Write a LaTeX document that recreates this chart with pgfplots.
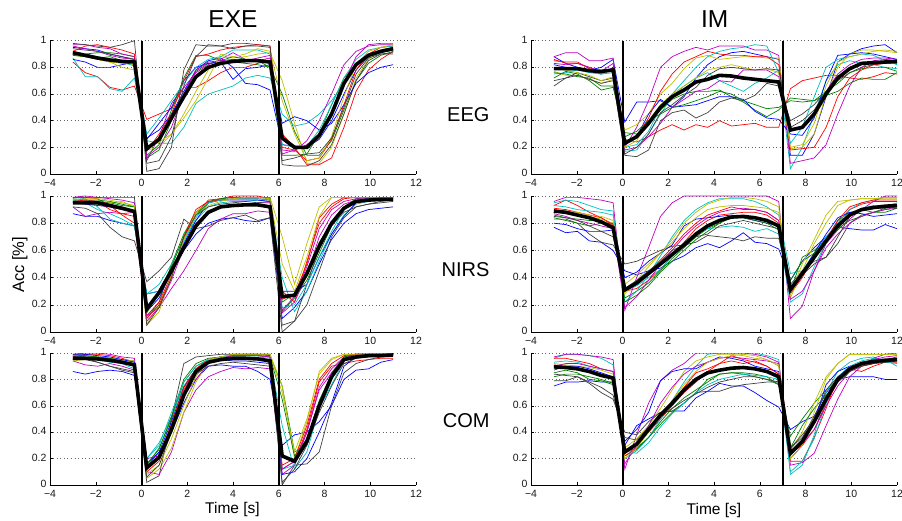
\documentclass[border=0pt]{standalone}
\usepackage{fontspec}
\setmainfont{Liberation Sans}
\usepackage{pgfplots}
\usepackage{pgfplotstable}
\pgfplotsset{compat=1.18}

\definecolor{mb}{rgb}{0,0,1}
\definecolor{mg}{rgb}{0,0.5,0}
\definecolor{mr}{rgb}{1,0,0}
\definecolor{mc}{rgb}{0,0.75,0.75}
\definecolor{mm}{rgb}{0.75,0,0.75}
\definecolor{my}{rgb}{0.75,0.75,0}
\definecolor{mk}{rgb}{0.25,0.25,0.25}

% ---------- EXE / EEG ----------
\pgfplotstableread[header=false]{
t   -3 -2.46 -1.92 -1.38 -0.85 -0.31 0.23 0.77 1.31 1.85 2.38 2.92 3.46 4.00 4.54 5.08 5.62 6.15 6.69 7.23 7.77 8.31 8.85 9.38 9.92 10.46 11.00
a1  0.95 0.94 0.93 0.90 0.88 0.86 0.27 0.33 0.45 0.62 0.78 0.85 0.87 0.80 0.68 0.67 0.63 0.22 0.21 0.20 0.26 0.40 0.60 0.78 0.88 0.92 0.94
a2  0.91 0.90 0.91 0.91 0.90 0.88 0.12 0.18 0.40 0.60 0.77 0.83 0.84 0.84 0.83 0.82 0.80 0.60 0.32 0.14 0.14 0.25 0.48 0.70 0.83 0.89 0.92
a3  0.84 0.76 0.73 0.65 0.63 0.66 0.41 0.45 0.49 0.65 0.65 0.70 0.76 0.80 0.80 0.83 0.85 0.30 0.20 0.07 0.07 0.12 0.35 0.62 0.78 0.86 0.92
a4  0.87 0.73 0.73 0.64 0.62 0.72 0.25 0.23 0.23 0.35 0.53 0.60 0.63 0.66 0.72 0.74 0.72 0.45 0.36 0.38 0.45 0.55 0.68 0.82 0.90 0.93 0.95
a5  0.97 0.97 0.95 0.94 0.90 0.88 0.10 0.28 0.53 0.65 0.76 0.82 0.86 0.91 0.86 0.85 0.87 0.18 0.17 0.25 0.40 0.60 0.82 0.92 0.96 0.97 0.97
a6  0.89 0.88 0.86 0.84 0.83 0.82 0.18 0.20 0.30 0.45 0.62 0.78 0.88 0.87 0.88 0.90 0.91 0.70 0.38 0.08 0.08 0.20 0.45 0.72 0.86 0.92 0.95
a7  0.98 0.97 0.96 0.95 0.97 1.00 0.02 0.04 0.20 0.78 0.97 0.96 0.96 0.98 0.98 0.97 0.96 0.07 0.06 0.06 0.10 0.22 0.45 0.70 0.85 0.90 0.91
a8  0.86 0.84 0.80 0.80 0.82 0.84 0.26 0.38 0.50 0.70 0.80 0.83 0.84 0.71 0.79 0.80 0.82 0.38 0.43 0.40 0.33 0.38 0.52 0.68 0.76 0.80 0.82
a9  0.89 0.88 0.87 0.88 0.85 0.84 0.14 0.22 0.48 0.72 0.89 0.89 0.85 0.88 0.86 0.85 0.80 0.14 0.14 0.15 0.30 0.52 0.72 0.82 0.88 0.91 0.93
a10 0.92 0.96 0.97 0.95 0.93 0.90 0.17 0.30 0.45 0.70 0.88 0.90 0.93 0.95 0.96 0.97 0.96 0.20 0.18 0.10 0.12 0.26 0.52 0.78 0.90 0.95 0.96
a11 0.92 0.90 0.88 0.86 0.84 0.81 0.30 0.42 0.55 0.68 0.80 0.86 0.88 0.93 0.93 0.93 0.90 0.22 0.20 0.21 0.33 0.52 0.72 0.86 0.93 0.95 0.96
a12 0.96 0.94 0.92 0.89 0.87 0.86 0.13 0.20 0.35 0.60 0.78 0.84 0.85 0.86 0.85 0.87 0.89 0.15 0.18 0.22 0.30 0.44 0.68 0.88 0.97 0.98 0.98
a13 0.90 0.88 0.86 0.84 0.80 0.78 0.20 0.24 0.30 0.42 0.55 0.72 0.90 0.88 0.90 0.94 0.92 0.55 0.30 0.10 0.12 0.28 0.58 0.82 0.92 0.95 0.97
a14 0.94 0.93 0.92 0.90 0.88 0.86 0.08 0.10 0.28 0.66 0.88 0.97 0.96 0.94 0.96 0.96 0.95 0.10 0.12 0.15 0.16 0.27 0.50 0.75 0.87 0.90 0.90
m   0.91 0.89 0.87 0.855 0.845 0.84 0.19 0.26 0.42 0.58 0.73 0.80 0.83 0.845 0.85 0.85 0.84 0.27 0.20 0.20 0.29 0.45 0.68 0.82 0.89 0.92 0.94
}\rEXEa
\pgfplotstabletranspose[colnames from=0]{\EXEa}{\rEXEa}

% ---------- EXE / NIRS ----------
\pgfplotstableread[header=false]{
t   -3 -2.46 -1.92 -1.38 -0.85 -0.31 0.23 0.77 1.31 1.85 2.38 2.92 3.46 4.00 4.54 5.08 5.62 6.15 6.69 7.23 7.77 8.31 8.85 9.38 9.92 10.46 11.00
a1  0.87 0.85 0.85 0.82 0.80 0.78 0.28 0.30 0.45 0.60 0.72 0.80 0.83 0.84 0.82 0.81 0.84 0.10 0.18 0.30 0.50 0.68 0.80 0.87 0.90 0.91 0.92
a2  0.97 0.97 0.96 0.95 0.93 0.92 0.10 0.22 0.50 0.72 0.88 0.96 0.98 0.99 0.99 0.99 0.98 0.15 0.25 0.38 0.58 0.78 0.90 0.96 0.97 0.98 0.98
a3  0.99 0.99 0.98 0.93 0.86 0.80 0.12 0.22 0.42 0.68 0.86 0.97 0.98 1.00 1.00 1.00 0.98 0.30 0.22 0.52 0.80 0.92 0.98 0.99 0.99 0.99 0.99
a4  0.97 0.95 0.90 0.87 0.83 0.78 0.28 0.35 0.50 0.68 0.82 0.92 0.95 0.96 0.96 0.97 0.96 0.40 0.15 0.30 0.52 0.72 0.86 0.94 0.96 0.97 0.97
a5  0.92 0.85 0.87 0.88 0.87 0.88 0.12 0.18 0.32 0.45 0.60 0.76 0.83 0.87 0.87 0.89 0.88 0.14 0.22 0.42 0.70 0.86 0.94 0.97 0.97 0.97 0.97
a6  0.95 0.95 0.94 0.95 0.96 0.92 0.06 0.20 0.40 0.70 0.88 0.95 0.97 0.98 0.99 0.99 0.99 0.70 0.35 0.65 0.92 0.99 0.99 0.99 0.99 0.99 0.99
a7  0.92 0.91 0.87 0.77 0.70 0.67 0.37 0.45 0.55 0.83 0.76 0.78 0.82 0.84 0.86 0.82 0.84 0.00 0.08 0.35 0.62 0.78 0.88 0.92 0.94 0.95 0.96
a8  0.95 0.94 0.93 0.92 0.90 0.88 0.15 0.25 0.44 0.65 0.82 0.95 0.97 0.97 0.97 0.97 0.96 0.30 0.30 0.35 0.55 0.72 0.85 0.95 0.99 0.99 0.99
a9  0.98 0.97 0.97 0.96 0.94 0.92 0.14 0.30 0.48 0.70 0.86 0.95 0.98 0.99 0.99 0.99 0.99 0.22 0.28 0.45 0.66 0.80 0.92 0.98 0.99 0.99 0.99
a10 0.96 0.97 0.96 0.90 0.87 0.85 0.10 0.20 0.40 0.70 0.90 0.96 0.97 0.98 0.98 0.98 0.97 0.24 0.28 0.50 0.84 0.94 0.99 0.99 0.99 0.99 0.99
a11 0.99 0.98 0.92 0.83 0.80 0.78 0.28 0.30 0.45 0.66 0.84 0.95 0.97 0.98 0.98 0.98 0.97 0.18 0.20 0.35 0.55 0.74 0.90 0.96 0.97 0.97 0.97
a12 0.99 1.00 0.99 0.98 0.97 0.95 0.08 0.18 0.38 0.62 0.80 0.88 0.92 0.93 0.94 0.95 0.95 0.16 0.26 0.48 0.76 0.90 0.96 0.98 0.98 0.98 0.98
a13 0.97 0.98 0.98 0.97 0.95 0.93 0.05 0.15 0.42 0.68 0.86 0.93 0.96 0.98 0.99 0.99 0.98 0.50 0.30 0.55 0.85 0.99 0.99 0.99 0.99 0.99 0.99
a14 0.99 0.99 0.99 0.99 0.99 0.99 0.05 0.18 0.40 0.70 0.86 0.92 0.94 0.95 0.96 0.95 0.96 0.05 0.08 0.20 0.45 0.70 0.84 0.92 0.94 0.96 0.97
m   0.95 0.95 0.95 0.93 0.91 0.886 0.17 0.29 0.45 0.62 0.78 0.88 0.92 0.93 0.935 0.935 0.92 0.26 0.27 0.43 0.63 0.80 0.91 0.96 0.97 0.975 0.975
}\rEXEb
\pgfplotstabletranspose[colnames from=0]{\EXEb}{\rEXEb}

% ---------- EXE / COM ----------
\pgfplotstableread[header=false]{
t   -3 -2.46 -1.92 -1.38 -0.85 -0.31 0.23 0.77 1.31 1.85 2.38 2.92 3.46 4.00 4.54 5.08 5.62 6.15 6.69 7.23 7.77 8.31 8.85 9.38 9.92 10.46 11.00
a1  0.86 0.84 0.86 0.87 0.86 0.83 0.16 0.25 0.40 0.62 0.80 0.90 0.91 0.90 0.90 0.86 0.80 0.30 0.38 0.40 0.48 0.60 0.80 0.87 0.88 0.93 0.95
a2  0.99 0.98 0.97 0.96 0.95 0.94 0.15 0.28 0.50 0.78 0.90 0.95 0.97 0.98 0.99 0.99 0.98 0.75 0.25 0.30 0.62 0.85 0.97 0.99 0.99 0.99 0.99
a3  0.97 0.99 0.99 0.98 0.96 0.93 0.10 0.18 0.45 0.72 0.88 0.95 0.97 0.99 0.99 0.99 0.98 0.12 0.18 0.42 0.78 0.90 0.92 0.94 0.95 0.96 0.96
a4  0.96 0.96 0.95 0.93 0.92 0.90 0.20 0.32 0.52 0.75 0.88 0.94 0.96 0.97 0.97 0.97 0.96 0.45 0.12 0.25 0.58 0.76 0.94 0.98 0.99 0.99 0.99
a5  0.94 0.91 0.90 0.92 0.90 0.87 0.10 0.08 0.25 0.55 0.72 0.82 0.86 0.89 0.88 0.89 0.88 0.08 0.15 0.40 0.74 0.88 0.97 0.99 0.99 0.99 0.99
a6  0.96 0.97 0.97 0.96 0.95 0.94 0.05 0.12 0.28 0.55 0.78 0.93 0.97 0.99 0.99 0.99 0.99 0.75 0.20 0.48 0.86 0.96 0.99 0.99 0.99 0.99 0.99
a7  0.95 0.95 0.93 0.90 0.88 0.86 0.02 0.07 0.50 0.92 0.97 0.98 0.99 0.99 0.99 0.99 0.99 0.00 0.15 0.16 0.25 0.60 0.85 0.92 0.95 0.97 0.98
a8  0.99 0.99 0.98 0.97 0.95 0.93 0.14 0.25 0.48 0.74 0.88 0.93 0.95 0.94 0.94 0.93 0.92 0.08 0.10 0.20 0.40 0.62 0.90 0.97 0.99 0.99 0.99
a9  0.98 0.98 0.97 0.96 0.94 0.92 0.16 0.27 0.52 0.80 0.92 0.96 0.97 0.98 0.98 0.98 0.97 0.65 0.22 0.35 0.64 0.84 0.97 0.99 0.99 0.99 0.99
a10 0.95 0.96 0.95 0.94 0.93 0.91 0.13 0.22 0.46 0.74 0.88 0.95 0.97 0.98 0.98 0.98 0.97 0.15 0.20 0.45 0.80 0.92 0.98 0.99 0.99 0.99 0.99
a11 0.98 0.97 0.96 0.95 0.92 0.88 0.20 0.30 0.55 0.78 0.90 0.95 0.97 0.98 0.98 0.98 0.97 0.12 0.15 0.35 0.62 0.80 0.95 0.98 0.99 0.99 0.99
a12 0.99 1.00 1.00 0.99 0.97 0.96 0.20 0.22 0.40 0.68 0.80 0.92 0.96 0.98 0.98 0.98 0.97 0.12 0.18 0.40 0.72 0.85 0.96 0.99 0.99 0.99 0.99
a13 0.94 0.95 0.95 0.94 0.93 0.92 0.08 0.15 0.35 0.60 0.82 0.95 0.97 0.99 0.99 0.99 0.99 0.70 0.25 0.50 0.84 0.95 0.99 0.99 0.99 0.99 0.99
a14 0.97 0.96 0.93 0.90 0.87 0.85 0.06 0.15 0.40 0.68 0.84 0.90 0.92 0.93 0.92 0.91 0.90 0.02 0.12 0.30 0.55 0.75 0.92 0.96 0.97 0.98 0.98
m   0.96 0.96 0.955 0.945 0.93 0.91 0.13 0.21 0.42 0.68 0.86 0.93 0.95 0.96 0.96 0.955 0.94 0.22 0.18 0.33 0.60 0.82 0.95 0.97 0.98 0.98 0.985
}\rEXEc
\pgfplotstabletranspose[colnames from=0]{\EXEc}{\rEXEc}

% ---------- IM / EEG ----------
\pgfplotstableread[header=false]{
t   -3 -2.48 -1.97 -1.45 -0.93 -0.41 0.10 0.62 1.14 1.66 2.17 2.69 3.21 3.72 4.24 4.76 5.28 5.79 6.31 6.83 7.34 7.86 8.38 8.90 9.41 9.93 10.45 10.97 11.48 12.00
a1  0.88 0.83 0.80 0.78 0.80 0.86 0.39 0.54 0.54 0.55 0.50 0.58 0.72 0.82 0.88 0.91 0.92 0.90 0.88 0.86 0.14 0.14 0.30 0.58 0.84 0.90 0.94 0.96 0.97 0.91
a2  0.72 0.77 0.75 0.70 0.63 0.65 0.31 0.30 0.38 0.48 0.56 0.60 0.62 0.62 0.63 0.58 0.54 0.48 0.43 0.48 0.57 0.56 0.55 0.59 0.62 0.68 0.72 0.71 0.71 0.76
a3  0.86 0.83 0.83 0.80 0.76 0.79 0.26 0.24 0.28 0.33 0.37 0.33 0.37 0.35 0.40 0.36 0.37 0.38 0.35 0.35 0.64 0.70 0.72 0.74 0.74 0.72 0.71 0.73 0.76 0.75
a4  0.75 0.76 0.78 0.77 0.75 0.76 0.17 0.18 0.30 0.45 0.58 0.66 0.72 0.76 0.70 0.66 0.62 0.68 0.72 0.78 0.04 0.20 0.45 0.70 0.82 0.85 0.83 0.82 0.80 0.79
a5  0.88 0.91 0.91 0.85 0.85 0.87 0.20 0.35 0.55 0.80 0.88 0.92 0.95 0.93 0.96 0.96 0.96 0.93 0.93 0.89 0.08 0.10 0.12 0.22 0.45 0.66 0.80 0.85 0.86 0.85
a6  0.77 0.74 0.74 0.71 0.68 0.71 0.33 0.37 0.45 0.60 0.68 0.79 0.87 0.89 0.86 0.87 0.88 0.88 0.87 0.87 0.19 0.20 0.30 0.60 0.80 0.90 0.93 0.93 0.92 0.91
a7  0.66 0.72 0.76 0.73 0.70 0.72 0.14 0.13 0.18 0.40 0.46 0.48 0.42 0.46 0.54 0.57 0.55 0.59 0.68 0.66 0.40 0.45 0.52 0.62 0.70 0.76 0.80 0.82 0.83 0.83
a8  0.82 0.80 0.79 0.77 0.75 0.80 0.22 0.28 0.45 0.56 0.50 0.51 0.52 0.55 0.58 0.58 0.56 0.47 0.42 0.41 0.30 0.29 0.42 0.70 0.89 0.90 0.91 0.90 0.88 0.86
a9  0.76 0.75 0.73 0.72 0.66 0.66 0.28 0.32 0.40 0.45 0.50 0.52 0.55 0.58 0.62 0.60 0.55 0.52 0.49 0.50 0.55 0.54 0.55 0.62 0.68 0.76 0.79 0.80 0.80 0.77
a10 0.85 0.84 0.84 0.79 0.77 0.79 0.23 0.28 0.42 0.62 0.75 0.84 0.88 0.92 0.90 0.89 0.89 0.88 0.88 0.82 0.18 0.19 0.20 0.35 0.58 0.72 0.78 0.82 0.83 0.84
a11 0.80 0.78 0.78 0.76 0.75 0.78 0.20 0.22 0.32 0.50 0.60 0.70 0.80 0.88 0.92 0.94 0.95 0.97 0.96 0.76 0.23 0.35 0.58 0.80 0.86 0.88 0.90 0.89 0.85 0.82
a12 0.83 0.82 0.83 0.80 0.77 0.83 0.18 0.20 0.28 0.38 0.50 0.56 0.62 0.64 0.70 0.69 0.78 0.78 0.78 0.73 0.33 0.36 0.45 0.62 0.75 0.82 0.86 0.87 0.87 0.86
a13 0.79 0.78 0.76 0.74 0.70 0.73 0.20 0.25 0.40 0.52 0.60 0.66 0.72 0.78 0.80 0.82 0.80 0.78 0.79 0.76 0.20 0.22 0.38 0.66 0.84 0.88 0.90 0.92 0.93 0.92
a14 0.70 0.72 0.74 0.71 0.68 0.70 0.15 0.20 0.30 0.46 0.52 0.59 0.65 0.74 0.79 0.80 0.79 0.78 0.79 0.78 0.35 0.40 0.48 0.62 0.72 0.78 0.82 0.84 0.84 0.83
m   0.79 0.79 0.79 0.775 0.77 0.78 0.23 0.28 0.38 0.50 0.58 0.63 0.69 0.71 0.74 0.735 0.72 0.71 0.70 0.69 0.33 0.35 0.45 0.60 0.72 0.79 0.83 0.835 0.84 0.845
}\rIMa
\pgfplotstabletranspose[colnames from=0]{\IMa}{\rIMa}

% ---------- IM / NIRS ----------
\pgfplotstableread[header=false]{
t   -3 -2.48 -1.97 -1.45 -0.93 -0.41 0.10 0.62 1.14 1.66 2.17 2.69 3.21 3.72 4.24 4.76 5.28 5.79 6.31 6.83 7.34 7.86 8.38 8.90 9.41 9.93 10.45 10.97 11.48 12.00
a1  0.77 0.73 0.74 0.67 0.66 0.60 0.45 0.42 0.45 0.47 0.52 0.56 0.62 0.65 0.62 0.67 0.73 0.66 0.65 0.61 0.38 0.52 0.62 0.70 0.77 0.76 0.75 0.75 0.79 0.76
a2  0.86 0.84 0.83 0.82 0.82 0.76 0.25 0.30 0.36 0.45 0.54 0.62 0.70 0.76 0.80 0.85 0.85 0.84 0.82 0.77 0.30 0.55 0.60 0.68 0.82 0.88 0.90 0.88 0.88 0.91
a3  0.93 0.97 0.93 0.88 0.84 0.78 0.30 0.32 0.38 0.46 0.56 0.66 0.76 0.82 0.86 0.87 0.88 0.88 0.86 0.80 0.28 0.40 0.55 0.68 0.80 0.90 0.94 0.96 0.96 0.96
a4  0.95 0.97 0.96 0.93 0.90 0.89 0.22 0.30 0.42 0.56 0.70 0.82 0.90 0.95 0.98 0.98 0.98 0.96 0.92 0.86 0.43 0.45 0.58 0.70 0.80 0.90 0.95 0.97 0.99 0.99
a5  0.96 0.99 0.99 0.98 0.97 0.95 0.16 0.40 0.62 0.85 0.95 1.00 1.00 1.00 1.00 1.00 1.00 1.00 1.00 0.96 0.10 0.19 0.45 0.65 0.75 0.83 0.90 0.96 1.00 1.00
a6  0.88 0.87 0.86 0.85 0.83 0.80 0.28 0.38 0.48 0.58 0.68 0.80 0.88 0.94 0.97 0.99 0.99 0.98 0.96 0.92 0.25 0.45 0.65 0.80 0.93 0.97 0.98 0.98 0.99 0.99
a7  0.83 0.83 0.80 0.72 0.66 0.64 0.50 0.52 0.56 0.60 0.63 0.64 0.66 0.71 0.70 0.69 0.67 0.70 0.69 0.69 0.35 0.45 0.52 0.55 0.65 0.80 0.86 0.88 0.90 0.91
a8  0.80 0.79 0.76 0.74 0.74 0.75 0.40 0.44 0.52 0.58 0.64 0.78 0.83 0.84 0.85 0.86 0.84 0.82 0.80 0.78 0.33 0.44 0.58 0.72 0.84 0.88 0.87 0.85 0.86 0.87
a9  0.84 0.82 0.80 0.78 0.80 0.80 0.22 0.27 0.34 0.44 0.52 0.60 0.68 0.74 0.80 0.84 0.84 0.82 0.80 0.75 0.38 0.52 0.58 0.66 0.76 0.82 0.85 0.88 0.91 0.92
a10 0.91 0.90 0.88 0.86 0.84 0.79 0.32 0.35 0.44 0.53 0.62 0.72 0.80 0.86 0.89 0.92 0.90 0.90 0.88 0.82 0.30 0.42 0.55 0.68 0.82 0.92 0.95 0.97 0.97 0.97
a11 0.93 0.92 0.90 0.89 0.88 0.86 0.30 0.34 0.40 0.46 0.56 0.64 0.72 0.76 0.77 0.78 0.77 0.74 0.76 0.72 0.22 0.28 0.48 0.66 0.79 0.86 0.91 0.93 0.92 0.95
a12 0.87 0.85 0.82 0.80 0.78 0.76 0.18 0.26 0.38 0.50 0.60 0.70 0.78 0.84 0.88 0.90 0.91 0.90 0.88 0.82 0.24 0.30 0.45 0.62 0.72 0.80 0.85 0.88 0.90 0.92
a13 0.90 0.89 0.88 0.86 0.85 0.82 0.35 0.42 0.50 0.58 0.66 0.76 0.84 0.90 0.92 0.93 0.93 0.92 0.91 0.88 0.28 0.50 0.68 0.86 0.96 0.97 0.98 0.98 0.98 0.98
a14 0.85 0.84 0.82 0.78 0.74 0.70 0.32 0.38 0.45 0.52 0.60 0.64 0.70 0.72 0.78 0.80 0.82 0.80 0.78 0.76 0.30 0.42 0.50 0.55 0.70 0.85 0.90 0.91 0.91 0.93
m   0.89 0.88 0.86 0.84 0.81 0.767 0.31 0.36 0.43 0.50 0.57 0.64 0.72 0.78 0.82 0.845 0.85 0.84 0.82 0.78 0.31 0.43 0.55 0.67 0.78 0.86 0.90 0.915 0.925 0.93
}\rIMb
\pgfplotstabletranspose[colnames from=0]{\IMb}{\rIMb}

% ---------- IM / COM ----------
\pgfplotstableread[header=false]{
t   -3 -2.48 -1.97 -1.45 -0.93 -0.41 0.10 0.62 1.14 1.66 2.17 2.69 3.21 3.72 4.24 4.76 5.28 5.79 6.31 6.83 7.34 7.86 8.38 8.90 9.41 9.93 10.45 10.97 11.48 12.00
a1  0.75 0.78 0.78 0.79 0.78 0.78 0.30 0.45 0.50 0.55 0.56 0.56 0.66 0.71 0.77 0.75 0.75 0.70 0.64 0.59 0.42 0.48 0.52 0.70 0.80 0.82 0.82 0.82 0.80 0.80
a2  0.85 0.87 0.85 0.80 0.79 0.76 0.25 0.28 0.36 0.48 0.58 0.66 0.72 0.78 0.84 0.85 0.85 0.84 0.82 0.76 0.37 0.50 0.62 0.72 0.80 0.88 0.93 0.95 0.95 0.94
a3  0.91 0.90 0.88 0.86 0.84 0.80 0.24 0.30 0.40 0.50 0.60 0.70 0.78 0.86 0.92 0.98 0.95 0.93 0.90 0.84 0.18 0.18 0.36 0.58 0.82 0.88 0.86 0.90 0.93 0.93
a4  0.96 0.99 0.99 0.98 0.96 0.91 0.20 0.26 0.36 0.50 0.64 0.78 0.90 0.99 1.00 1.00 1.00 1.00 0.98 0.95 0.08 0.15 0.38 0.70 0.86 0.93 0.96 0.97 0.93 0.92
a5  0.97 0.99 0.99 0.98 0.97 0.95 0.12 0.38 0.62 0.79 0.87 0.92 1.00 1.00 1.00 1.00 1.00 0.99 0.97 0.93 0.15 0.17 0.24 0.45 0.65 0.82 0.90 0.96 0.99 1.00
a6  0.92 0.91 0.90 0.89 0.87 0.84 0.28 0.35 0.45 0.58 0.72 0.86 0.94 0.97 0.99 0.99 0.98 0.96 0.95 0.90 0.26 0.40 0.62 0.82 0.92 0.99 0.99 0.99 0.99 0.99
a7  0.79 0.79 0.82 0.77 0.70 0.65 0.40 0.38 0.48 0.55 0.56 0.62 0.70 0.71 0.71 0.74 0.76 0.77 0.78 0.78 0.28 0.38 0.50 0.72 0.82 0.86 0.90 0.92 0.93 0.94
a8  0.87 0.90 0.90 0.88 0.85 0.82 0.33 0.42 0.55 0.79 0.86 0.88 0.88 0.93 0.97 0.96 0.94 0.90 0.88 0.86 0.20 0.30 0.48 0.76 0.86 0.90 0.92 0.94 0.95 0.96
a9  0.82 0.84 0.84 0.82 0.80 0.77 0.22 0.27 0.36 0.46 0.55 0.62 0.70 0.80 0.84 0.85 0.84 0.82 0.80 0.76 0.28 0.45 0.58 0.68 0.78 0.86 0.92 0.94 0.95 0.96
a10 0.96 0.96 0.94 0.92 0.88 0.86 0.22 0.28 0.42 0.54 0.62 0.74 0.85 0.88 0.92 0.94 0.92 0.94 0.90 0.84 0.24 0.30 0.42 0.62 0.78 0.87 0.90 0.92 0.95 0.97
a11 0.93 0.94 0.93 0.90 0.88 0.86 0.26 0.24 0.32 0.44 0.54 0.62 0.70 0.76 0.80 0.82 0.84 0.83 0.82 0.80 0.10 0.18 0.35 0.62 0.82 0.90 0.94 0.96 0.95 0.90
a12 0.90 0.92 0.92 0.90 0.88 0.86 0.16 0.30 0.45 0.62 0.74 0.84 0.90 0.93 0.96 0.97 0.96 0.95 0.94 0.92 0.26 0.32 0.42 0.60 0.75 0.86 0.92 0.95 0.97 0.98
a13 0.88 0.89 0.88 0.86 0.84 0.80 0.20 0.28 0.40 0.52 0.64 0.76 0.86 0.93 0.96 0.98 0.99 0.98 0.95 0.91 0.20 0.30 0.55 0.80 0.92 0.99 0.99 0.99 0.99 0.99
a14 0.84 0.83 0.82 0.78 0.74 0.68 0.36 0.34 0.44 0.52 0.58 0.64 0.69 0.74 0.78 0.80 0.82 0.82 0.80 0.78 0.28 0.36 0.52 0.66 0.78 0.86 0.90 0.92 0.93 0.94
m   0.895 0.89 0.88 0.86 0.83 0.81 0.25 0.31 0.42 0.53 0.62 0.72 0.80 0.85 0.87 0.885 0.89 0.88 0.86 0.82 0.24 0.33 0.48 0.65 0.80 0.88 0.92 0.935 0.945 0.95
}\rIMc
\pgfplotstabletranspose[colnames from=0]{\IMc}{\rIMc}

\pgfplotsset{
  pan/.style={
    scale only axis, width=366pt,
    xmin=-4, xmax=12, ymin=0, ymax=1,
    axis x line*=bottom, axis y line*=left,
    xtick={-4,-2,0,2,4,6,8,10,12},
    xticklabels={−4,−2,0,2,4,6,8,10,12},
    ytick={0,0.2,0.4,0.6,0.8,1},
    yticklabels={0,0.2,0.4,0.6,0.8,1},
    ymajorgrids,
    grid style={dash pattern=on 0.9pt off 2.6pt, black!60, line width=0.6pt},
    tick align=inside, major tick length=3pt,
    tick style={black, line width=0.5pt},
    axis line style={black, line width=0.7pt},
    tick label style={font=\fontsize{10.5}{12}\selectfont, text=black!90},
    xticklabel style={yshift=-1.5pt},
    yticklabel style={yshift=1pt},
    /pgf/number format/assume math mode=true,
    every axis plot/.append style={no markers, line width=0.7pt},
  },
  vl/.style={black, line width=2pt},
  mn/.style={black, line width=3.6pt},
}

\newcommand\panel[2]{%
  \addplot[mb] table[x=t,y=a1]{#1};
  \addplot[mg] table[x=t,y=a2]{#1};
  \addplot[mr] table[x=t,y=a3]{#1};
  \addplot[mc] table[x=t,y=a4]{#1};
  \addplot[mm] table[x=t,y=a5]{#1};
  \addplot[my] table[x=t,y=a6]{#1};
  \addplot[mk] table[x=t,y=a7]{#1};
  \addplot[mb] table[x=t,y=a8]{#1};
  \addplot[mg] table[x=t,y=a9]{#1};
  \addplot[mr] table[x=t,y=a10]{#1};
  \addplot[mc] table[x=t,y=a11]{#1};
  \addplot[mm] table[x=t,y=a12]{#1};
  \addplot[my] table[x=t,y=a13]{#1};
  \addplot[mk] table[x=t,y=a14]{#1};
  \addplot[vl] coordinates {(0,0) (0,1)};
  \addplot[vl] coordinates {(#2,0) (#2,1)};
  \addplot[mn] table[x=t,y=m]{#1};
}

\begin{document}
\begin{tikzpicture}
\useasboundingbox (0,0) rectangle (902pt,-521pt);

\begin{axis}[pan, height=133.3pt, at={(50pt,-40.7pt)}, anchor=north west]
\panel{\EXEa}{6}
\end{axis}
\begin{axis}[pan, height=136pt, at={(50pt,-196pt)}, anchor=north west]
\panel{\EXEb}{6}
\end{axis}
\begin{axis}[pan, height=132pt, at={(50pt,-353pt)}, anchor=north west]
\panel{\EXEc}{6}
\end{axis}

\begin{axis}[pan, height=133.3pt, at={(531pt,-40.7pt)}, anchor=north west]
\panel{\IMa}{7}
\end{axis}
\begin{axis}[pan, height=136pt, at={(531pt,-196pt)}, anchor=north west]
\panel{\IMb}{7}
\end{axis}
\begin{axis}[pan, height=132pt, at={(531pt,-353pt)}, anchor=north west]
\panel{\IMc}{7}
\end{axis}

\node[font=\fontsize{24.5}{28}\selectfont, anchor=base] at (233pt,-28pt) {EXE};
\node[font=\fontsize{24.5}{28}\selectfont, anchor=base] at (714.7pt,-28pt) {IM};
\node[font=\fontsize{20}{24}\selectfont, anchor=base east] at (493pt,-122pt) {EEG};
\node[font=\fontsize{20}{24}\selectfont, anchor=base east] at (493pt,-276.5pt) {NIRS};
\node[font=\fontsize{20}{24}\selectfont, anchor=base east] at (493pt,-427.5pt) {COM};
\node[font=\fontsize{16.5}{18}\selectfont, rotate=90, anchor=base] at (24pt,-265pt) {Acc [\%]};
\node[font=\fontsize{15.5}{18}\selectfont, anchor=base] at (232.5pt,-513.3pt) {Time [s]};
\node[font=\fontsize{15.5}{18}\selectfont, anchor=base] at (714pt,-514pt) {Time [s]};
\end{tikzpicture}
\end{document}
